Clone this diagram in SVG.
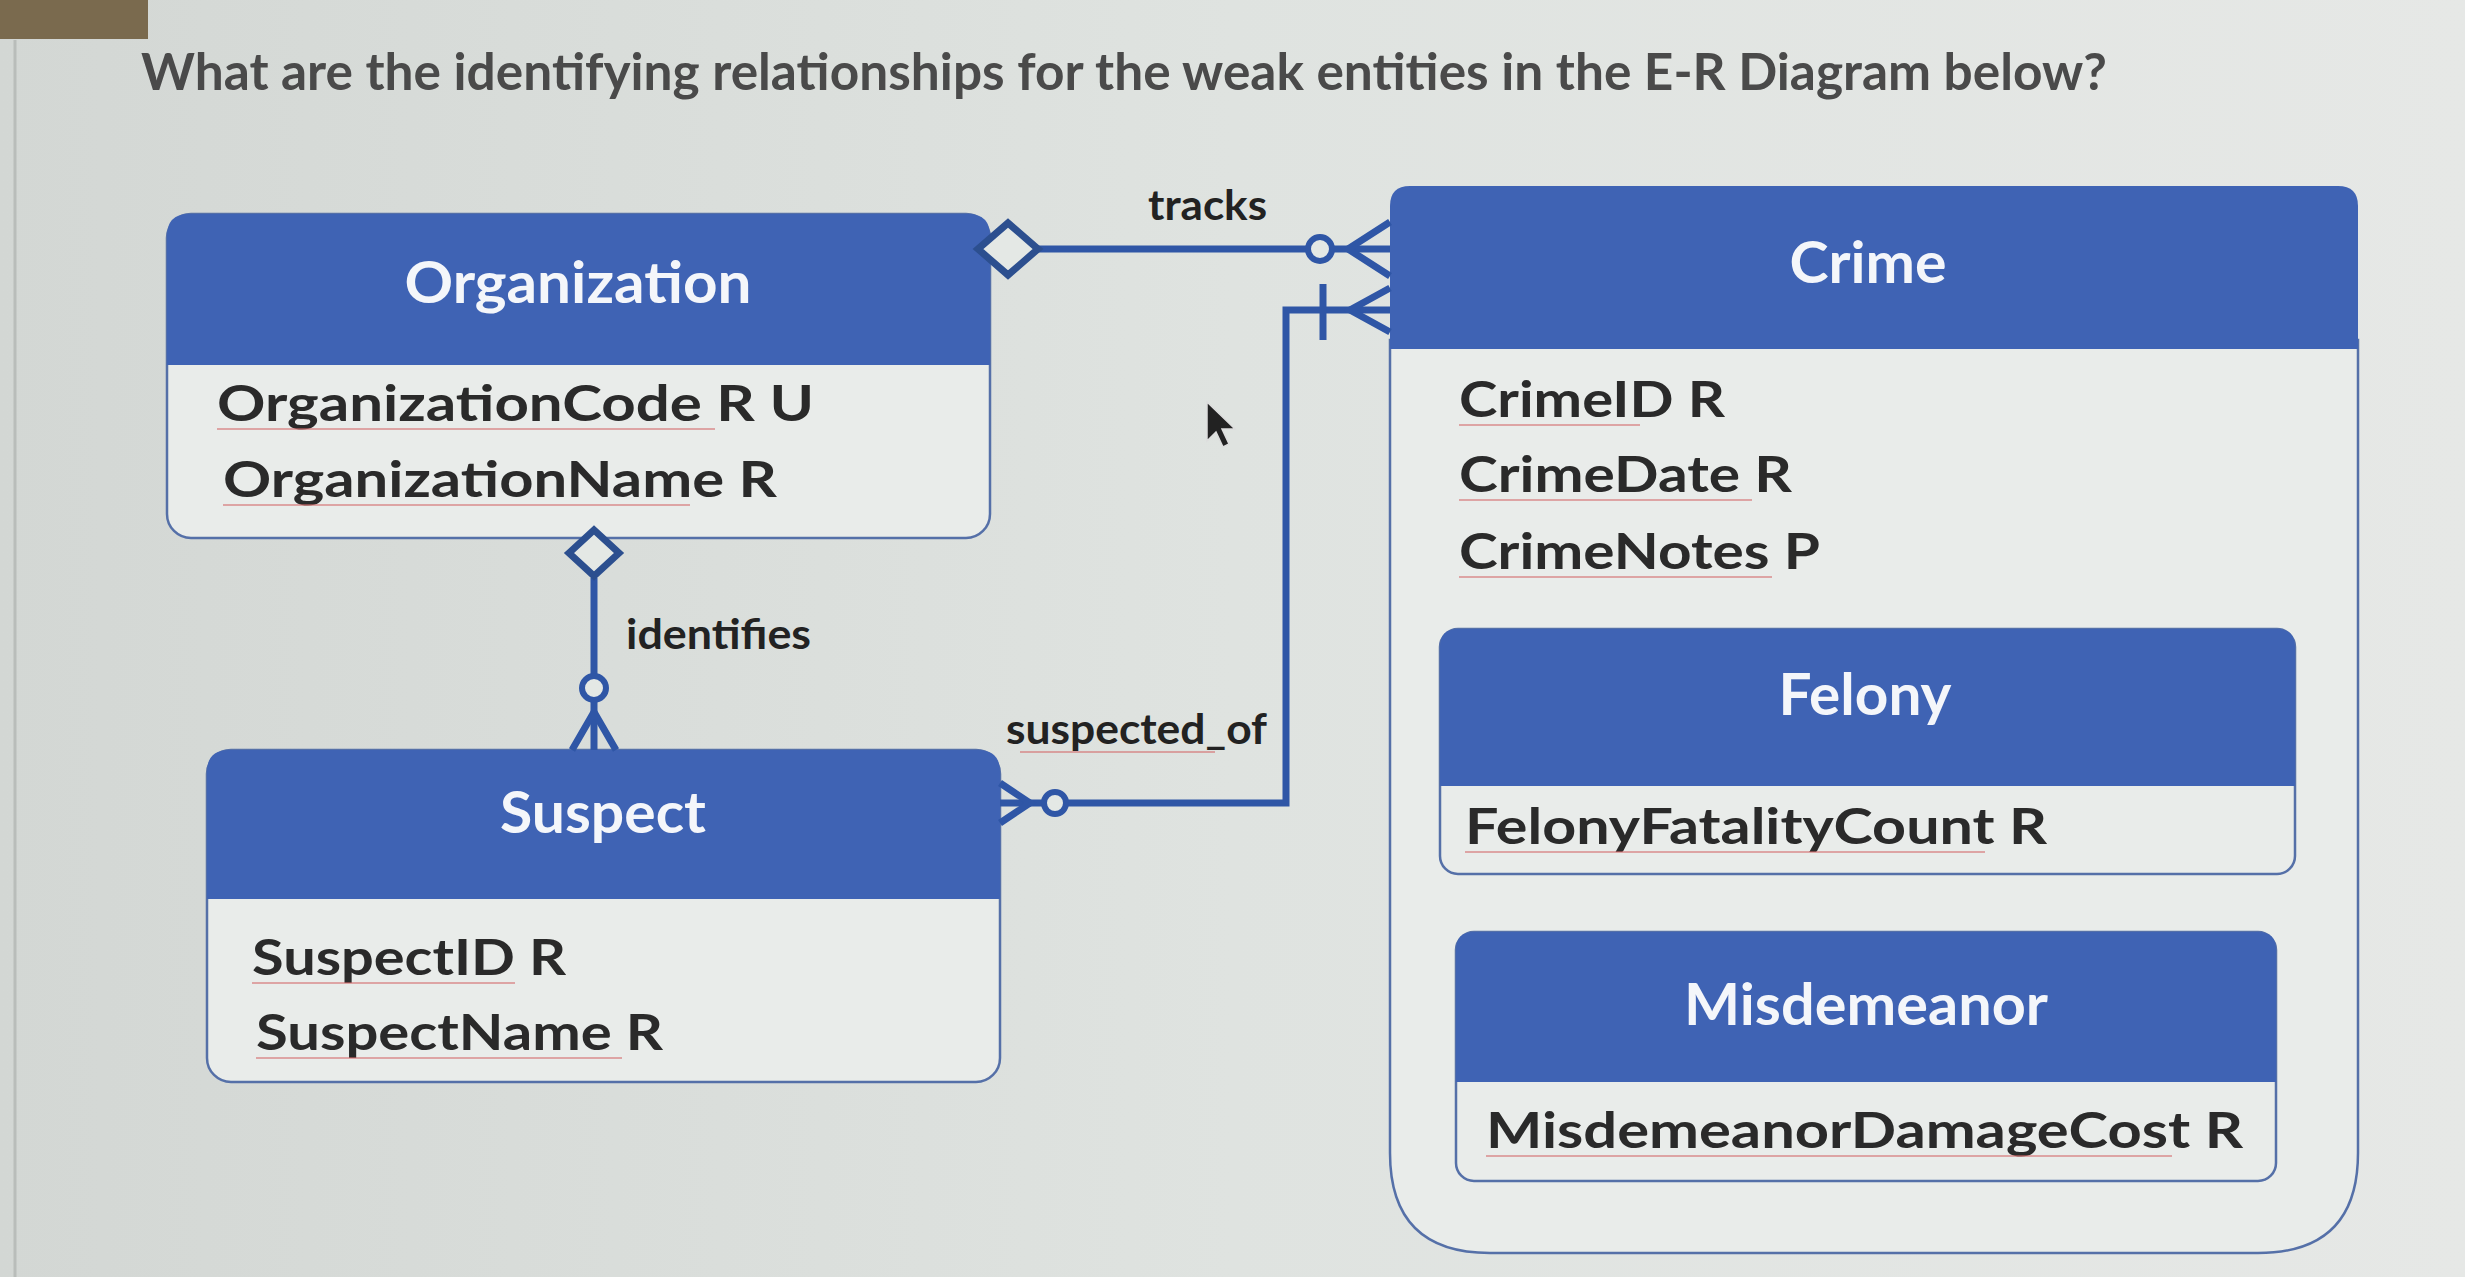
<svg xmlns="http://www.w3.org/2000/svg" width="2465" height="1277" viewBox="0 0 2465 1277">
<defs>
<linearGradient id="bg" x1="0" y1="0" x2="1" y2="0">
<stop offset="0" stop-color="#d3d7d4"/>
<stop offset="0.5" stop-color="#dfe3e0"/>
<stop offset="1" stop-color="#e6e8e6"/>
</linearGradient>
<style>
.hdr{fill:#3f63b4;}
.body{fill:#e9ecea;stroke:#5570a8;stroke-width:2.5;}
.ttl{font-family:Lato,"Liberation Sans",sans-serif;font-size:58px;font-weight:bold;fill:#f4f6fa;text-anchor:middle;}
.attr{font-family:Lato,"Liberation Sans",sans-serif;font-size:50px;font-weight:bold;fill:#2a2a2a;}
.lbl{font-family:Lato,"Liberation Sans",sans-serif;font-size:42px;font-weight:bold;fill:#222;}
.q{font-family:Lato,"Liberation Sans",sans-serif;font-size:52px;font-weight:bold;fill:#4a4a4a;}
.ln{fill:none;stroke:#2f56a6;stroke-width:7;stroke-linejoin:miter;}
.dia{fill:#e4e8e5;stroke:#2c4f8f;stroke-width:7;}
.circ{fill:#e4e8e5;stroke:#2f56a6;stroke-width:6;}
.sq{stroke:#d46a6a;stroke-width:1.8;opacity:0.55;fill:none;}
</style>
</defs>
<rect x="0" y="0" width="2465" height="1277" fill="url(#bg)"/>
<rect x="0" y="0" width="148" height="39" fill="#7a6a4e"/>
<line x1="15" y1="40" x2="15" y2="1277" stroke="#b9bdba" stroke-width="3"/>

<text class="q" x="141" y="90" textLength="1966" lengthAdjust="spacingAndGlyphs">What are the identifying relationships for the weak entities in the E-R Diagram below?</text>

<g id="organization">
<rect class="body" x="167" y="214" width="823" height="324" rx="24"/>
<path class="hdr" d="M167,365 V236 Q167,214 189,214 H968 Q990,214 990,236 V365 Z"/>
<text class="ttl" x="578" y="303" textLength="347" lengthAdjust="spacingAndGlyphs">Organization</text>
<text class="attr" x="217" y="421" textLength="597" lengthAdjust="spacingAndGlyphs">OrganizationCode R U</text>
<text class="attr" x="223" y="497" textLength="554" lengthAdjust="spacingAndGlyphs">OrganizationName R</text>
<path class="sq" d="M217,429 H715 M223,505 H690"/>
</g>

<g id="suspect">
<rect class="body" x="207" y="750" width="793" height="332" rx="24"/>
<path class="hdr" d="M207,899 V772 Q207,750 229,750 H978 Q1000,750 1000,772 V899 Z"/>
<text class="ttl" x="603" y="833" textLength="206" lengthAdjust="spacingAndGlyphs">Suspect</text>
<text class="attr" x="252" y="975" textLength="314" lengthAdjust="spacingAndGlyphs">SuspectID R</text>
<text class="attr" x="256" y="1050" textLength="407" lengthAdjust="spacingAndGlyphs">SuspectName R</text>
<path class="sq" d="M252,983 H515 M256,1058 H622"/>
</g>

<g id="crime">
<path class="body" d="M1390,340 V1153 Q1390,1253 1490,1253 H2258 Q2358,1253 2358,1153 V340 Z"/>
<path class="hdr" d="M1390,349 V206 Q1390,186 1410,186 H2338 Q2358,186 2358,206 V349 Z"/>
<text class="ttl" x="1868" y="283" textLength="157" lengthAdjust="spacingAndGlyphs">Crime</text>
<text class="attr" x="1459" y="417" textLength="266" lengthAdjust="spacingAndGlyphs">CrimeID R</text>
<text class="attr" x="1459" y="492" textLength="333" lengthAdjust="spacingAndGlyphs">CrimeDate R</text>
<text class="attr" x="1459" y="569" textLength="361" lengthAdjust="spacingAndGlyphs">CrimeNotes P</text>
<path class="sq" d="M1459,425 H1640 M1459,500 H1752 M1459,577 H1772"/>
</g>

<g id="felony">
<rect class="body" x="1440" y="629" width="855" height="245" rx="18"/>
<path class="hdr" d="M1440,786 V647 Q1440,629 1458,629 H2277 Q2295,629 2295,647 V786 Z"/>
<text class="ttl" x="1865" y="715" textLength="173" lengthAdjust="spacingAndGlyphs">Felony</text>
<text class="attr" x="1465" y="844" textLength="582" lengthAdjust="spacingAndGlyphs">FelonyFatalityCount R</text>
<path class="sq" d="M1465,852 H1985"/>
</g>

<g id="misdemeanor">
<rect class="body" x="1456" y="932" width="820" height="249" rx="18"/>
<path class="hdr" d="M1456,1082 V950 Q1456,932 1474,932 H2258 Q2276,932 2276,950 V1082 Z"/>
<text class="ttl" x="1866" y="1025" textLength="364" lengthAdjust="spacingAndGlyphs">Misdemeanor</text>
<text class="attr" x="1486" y="1148" textLength="757" lengthAdjust="spacingAndGlyphs">MisdemeanorDamageCost R</text>
<path class="sq" d="M1486,1156 H2172"/>
</g>

<g id="connectors">
<!-- tracks -->
<line class="ln" x1="1038" y1="249" x2="1308" y2="249"/>
<line class="ln" x1="1332" y1="249" x2="1390" y2="249"/>
<polyline class="ln" points="1390,222 1348,249 1390,276"/>
<polygon class="dia" points="978,249 1008,223 1038,249 1008,275"/>
<circle class="circ" cx="1320" cy="249" r="12"/>
<text class="lbl" x="1148" y="220" textLength="119" lengthAdjust="spacingAndGlyphs">tracks</text>

<!-- suspected_of -->
<path class="ln" d="M1390,310 H1286 V803 H1067"/>
<polyline class="ln" points="1390,288 1350,310 1390,332"/>
<line class="ln" x1="1323" y1="284" x2="1323" y2="340" stroke-width="6"/>
<line class="ln" x1="1043" y1="803" x2="1000" y2="803"/>
<polyline class="ln" points="1000,783 1030,803 1000,823"/>
<circle class="circ" cx="1055" cy="803" r="11"/>
<text class="lbl" x="1006" y="744" textLength="261" lengthAdjust="spacingAndGlyphs">suspected_of</text>
<path class="sq" d="M1020,752 H1215"/>

<!-- identifies -->
<line class="ln" x1="594" y1="578" x2="594" y2="676"/>
<line class="ln" x1="594" y1="700" x2="594" y2="750"/>
<polyline class="ln" points="572,750 594,712 616,750"/>
<polygon class="dia" points="569,553 594,530 619,553 594,576"/>
<circle class="circ" cx="594" cy="688" r="12"/>
<text class="lbl" x="626" y="649" textLength="185" lengthAdjust="spacingAndGlyphs">identifies</text>
</g>

<path d="M1207,402 V441 L1216,432 L1223,447 L1229,444 L1222,429 L1235,429 Z" fill="#222" stroke="#ddd" stroke-width="1.5"/>
</svg>
